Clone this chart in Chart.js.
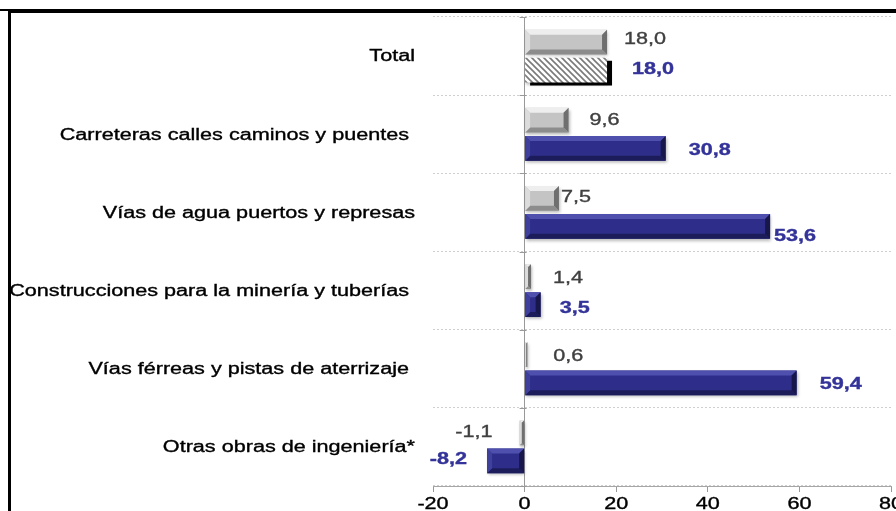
<!DOCTYPE html>
<html>
<head>
<meta charset="utf-8">
<script src="https://cdn.jsdelivr.net/npm/chart.js@4.4.0/dist/chart.umd.min.js"></script>
<style>
  html, body { margin: 0; padding: 0; background: #fff; overflow: hidden; }
  #wrap { position: relative; width: 896px; height: 511px; }
  #wrap canvas { position: absolute; left: 0; top: 0; }
  .rule { position: absolute; background: #000; }
</style>
</head>
<body>
<div id="wrap">
  <canvas id="chart" width="896" height="511"></canvas>
  <div class="rule" style="left:0;top:9px;width:8px;height:2px"></div>
  <div class="rule" style="left:8px;top:9px;width:888px;height:4px"></div>
  <div class="rule" style="left:8px;top:9px;width:2.5px;height:502px"></div>
</div>
<script>
const categories = [
  "Total",
  "Carreteras calles caminos y puentes ",
  "Vías de agua puertos y represas",
  "Construcciones para la minería y tuberías ",
  "Vías férreas y pistas de aterrizaje ",
  "Otras obras de ingeniería*"
];
const grayValues = [18.0, 9.6, 7.5, 1.4, 0.6, -1.1];
const blueValues = [18.0, 30.8, 53.6, 3.5, 59.4, -8.2];
const xTicks = [-20, 0, 20, 40, 60, 80];

// hand placed labels in the original: [dx from bar end, dy from bar centre]
const grayNudge = [[17, -4], [21, -2], [2, -3], [22, 0], [26, 0], [27, -2]];
const blueNudge = [[25, -3], [23, 0], [4, 8], [19, 2], [23, 0], [20, -3]];

const SX = 1.35; // text in the source picture is stretched sideways
const FONT = '"Liberation Sans", Arial, sans-serif';

function fmt(v) {
  return v.toFixed(1).replace(".", ",");
}

function stretchText(ctx, txt, x, y, align, font, color) {
  ctx.save();
  ctx.font = font;
  ctx.fillStyle = color;
  ctx.strokeStyle = color;
  ctx.lineWidth = 0.35;
  ctx.textAlign = align;
  ctx.textBaseline = "middle";
  ctx.translate(x, y + 2);
  ctx.scale(SX, 1);
  ctx.fillText(txt, 0, 0);
  ctx.strokeText(txt, 0, 0);
  ctx.restore();
}

function poly(ctx, pts, color) {
  ctx.beginPath();
  ctx.moveTo(pts[0][0], pts[0][1]);
  for (let i = 1; i < pts.length; i++) ctx.lineTo(pts[i][0], pts[i][1]);
  ctx.closePath();
  ctx.fillStyle = color;
  ctx.fill();
}

function barBox(el) {
  const p = el.getProps(["x", "y", "base", "height"], true);
  return {
    l: Math.min(p.x, p.base), r: Math.max(p.x, p.base),
    t: p.y - p.height / 2, b: p.y + p.height / 2, end: p.x, y: p.y
  };
}

// bevelled edges like the office 3D bars
function bevel(ctx, el, c) {
  const bx = barBox(el);
  const d = Math.min(5, (bx.r - bx.l) / 2, (bx.b - bx.t) / 2);
  poly(ctx, [[bx.l, bx.t], [bx.r, bx.t], [bx.r - d, bx.t + d], [bx.l + d, bx.t + d]], c.top);
  poly(ctx, [[bx.l, bx.b], [bx.r, bx.b], [bx.r - d, bx.b - d], [bx.l + d, bx.b - d]], c.bottom);
  poly(ctx, [[bx.l, bx.t], [bx.l + d, bx.t + d], [bx.l + d, bx.b - d], [bx.l, bx.b]], c.left);
  poly(ctx, [[bx.r, bx.t], [bx.r - d, bx.t + d], [bx.r - d, bx.b - d], [bx.r, bx.b]], c.right);
}

const grayBevel = { top: "#eeeeee", bottom: "#8c8c8c", left: "#dcdcdc", right: "#6f6f6f" };
const blueBevel = { top: "#4f4fae", bottom: "#1c1c5a", left: "#3f3f9c", right: "#17174c" };

const ctx = document.getElementById("chart").getContext("2d");

// diagonal hatch for the Total bar
function makeHatch() {
  const c = document.createElement("canvas");
  c.width = 6; c.height = 6;
  const g = c.getContext("2d");
  g.fillStyle = "#fff";
  g.fillRect(0, 0, 6, 6);
  g.strokeStyle = "#7a7a7a";
  g.lineWidth = 1.6;
  g.beginPath();
  g.moveTo(-1, -1); g.lineTo(7, 7);
  g.moveTo(-4, 2); g.lineTo(4, 10);
  g.moveTo(2, -4); g.lineTo(10, 4);
  g.stroke();
  return ctx.createPattern(c, "repeat");
}
const hatch = makeHatch();

const barLook = {
  id: "barLook",
  beforeDatasetsDraw(chart) {
    const c = chart.ctx;
    const el = chart.getDatasetMeta(1).data[0];
    const bx = barBox(el);
    c.save();
    c.fillStyle = "#000";
    c.fillRect(bx.l + 5, bx.t + 3, bx.r - bx.l, bx.b - bx.t);
    c.restore();
    // soft drop shadow for the bars, undone after they are drawn
    c.save();
    c.shadowColor = "rgba(0,0,0,0.28)";
    c.shadowBlur = 3;
    c.shadowOffsetX = 1;
    c.shadowOffsetY = 2;
  },
  afterDatasetsDraw(chart) {
    const c = chart.ctx;
    c.restore();
    c.save();
    chart.getDatasetMeta(0).data.forEach(el => bevel(c, el, grayBevel));
    chart.getDatasetMeta(1).data.forEach((el, i) => { if (i > 0) bevel(c, el, blueBevel); });
    // little tick marks on the zero line between categories
    const xs = chart.scales.x, ys = chart.scales.y;
    const x0 = xs.getPixelForValue(0);
    const step = (ys.bottom - ys.top) / categories.length;
    c.strokeStyle = "#999";
    c.lineWidth = 1;
    c.beginPath();
    for (let i = 0; i <= categories.length; i++) {
      const y = Math.round(ys.top + i * step) + 0.5;
      c.moveTo(x0 - 5, y); c.lineTo(x0 + 2, y);
    }
    c.stroke();
    c.restore();
  },
  afterDraw(chart) {
    const c = chart.ctx;
    const xs = chart.scales.x, ys = chart.scales.y;
    categories.forEach((name, i) => {
      stretchText(c, name, 415, ys.getPixelForValue(i) - 1, "right", "16px " + FONT, "#000");
    });
    xs.ticks.forEach(t => {
      stretchText(c, String(t.value), xs.getPixelForValue(t.value), xs.bottom + 11, "center", "16px " + FONT, "#000");
    });
    const sets = [
      { meta: chart.getDatasetMeta(0), vals: grayValues, nudge: grayNudge, font: "16px " + FONT, color: "#404040" },
      { meta: chart.getDatasetMeta(1), vals: blueValues, nudge: blueNudge, font: "bold 16px " + FONT, color: "#333399" }
    ];
    sets.forEach(s => {
      s.meta.data.forEach((el, i) => {
        const bx = barBox(el);
        const v = s.vals[i];
        const [dx, dy] = s.nudge[i];
        if (v >= 0) stretchText(c, fmt(v), bx.end + dx, bx.y + dy, "left", s.font, s.color);
        else stretchText(c, fmt(v), bx.end - dx, bx.y + dy, "right", s.font, s.color);
      });
    });
  }
};

new Chart(ctx, {
  type: "bar",
  data: {
    labels: categories,
    datasets: [
      { label: "gray", data: grayValues, backgroundColor: "#c4c4c4", borderWidth: 0 },
      { label: "blue", data: blueValues, backgroundColor: blueValues.map((v, i) => i === 0 ? hatch : "#2e2e8a"), borderWidth: 0 }
    ]
  },
  options: {
    indexAxis: "y",
    responsive: false,
    animation: false,
    layout: { padding: { left: 433, right: 5, top: 17, bottom: 19 } },
    datasets: { bar: { categoryPercentage: 0.72, barPercentage: 0.88 } },
    plugins: { legend: { display: false }, tooltip: { enabled: false } },
    scales: {
      x: {
        min: xTicks[0],
        max: xTicks[xTicks.length - 1],
        afterBuildTicks: axis => { axis.ticks = xTicks.map(v => ({ value: v })); },
        ticks: { display: false },
        grid: {
          color: c => (c.tick && c.tick.value === 0 ? "#999" : "rgba(0,0,0,0)"),
          tickColor: "#999",
          tickLength: 6
        },
        border: { color: "#a6a6a6" }
      },
      y: {
        ticks: { display: false },
        grid: { offset: true, color: "#cfcfcf", drawTicks: false },
        border: { display: false, dash: [2, 2] }
      }
    }
  },
  plugins: [barLook]
});
</script>
</body>
</html>
